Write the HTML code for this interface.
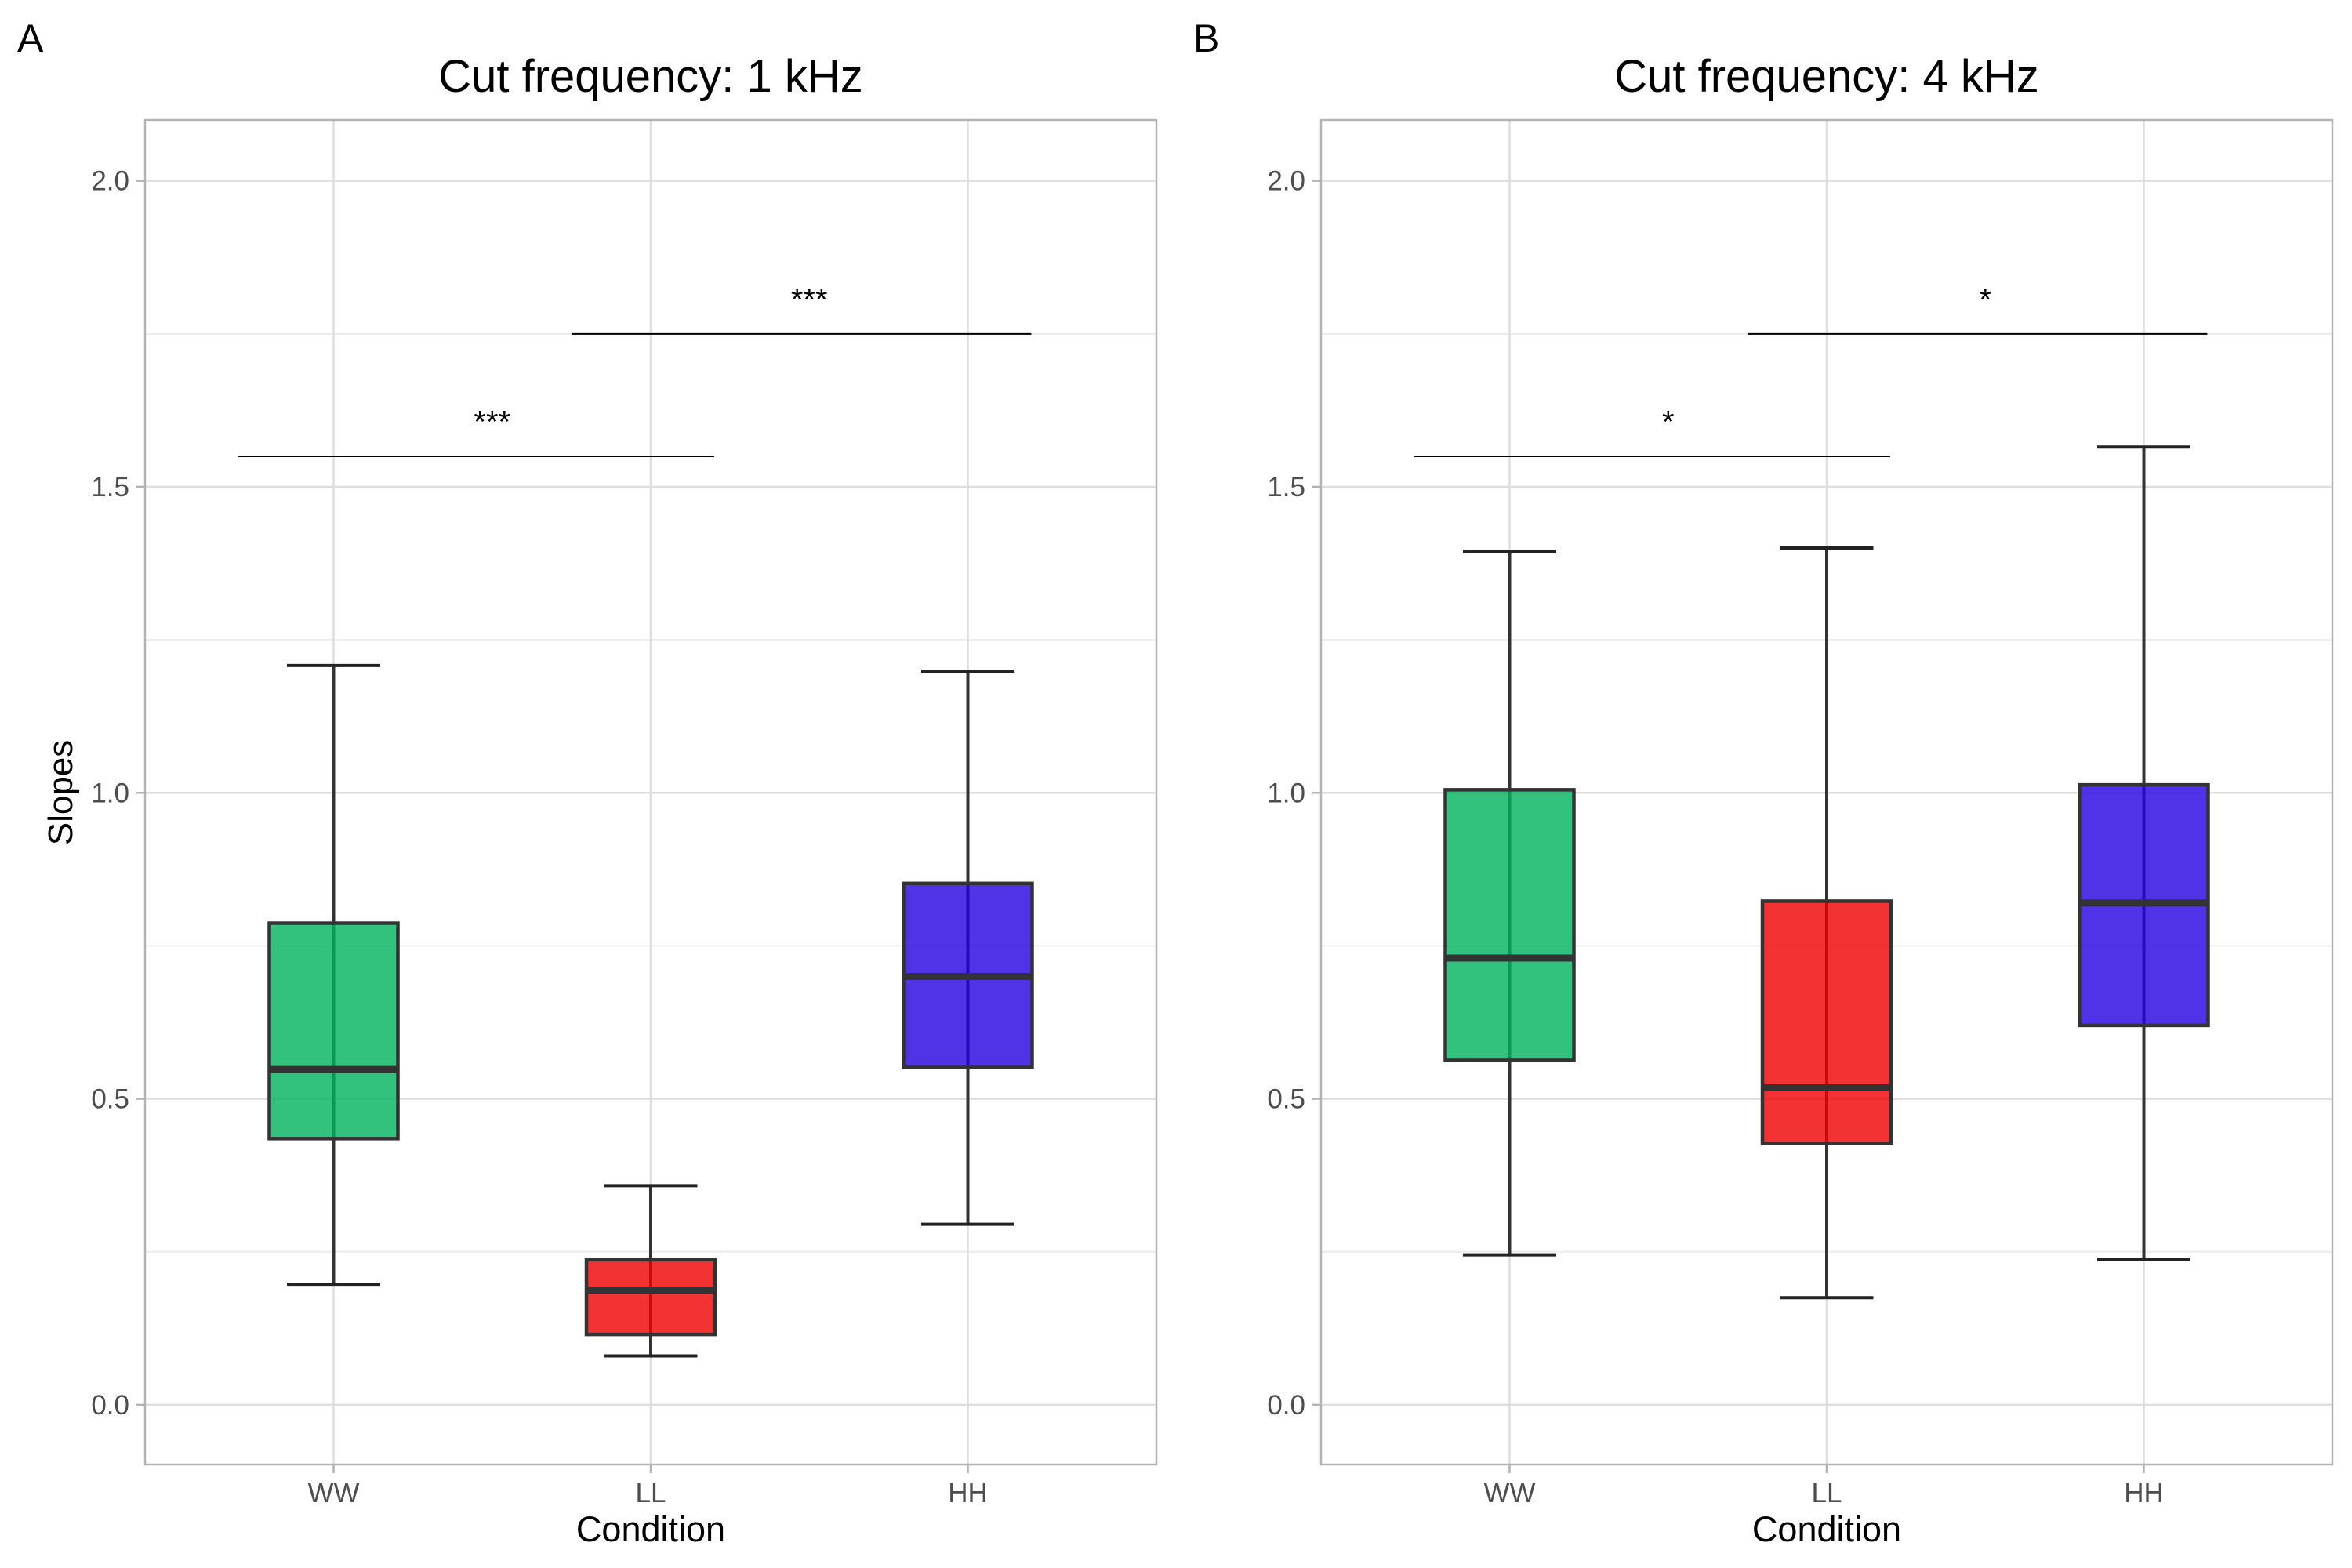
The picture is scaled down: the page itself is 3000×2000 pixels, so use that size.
<!DOCTYPE html>
<html><head><meta charset="utf-8">
<style>
html,body{margin:0;padding:0;background:#fff;}
svg{display:block;font-family:"Liberation Sans",sans-serif;}
</style></head>
<body>
<svg id="chart" width="3000" height="2000" viewBox="0 0 3000 2000"></svg>
<script>
const categories = ["WW","LL","HH"];
const colors = ["#00b35c","#f00000","#2400e0"];
const panelTitles = ["Cut frequency: 1 kHz","Cut frequency: 4 kHz"];
const panelLetters = ["A","B"];
// per panel: [min, q1, median, q3, max] for WW, LL, HH
const statsA = [[0.197,0.435,0.548,0.787,1.208],[0.080,0.115,0.187,0.237,0.358],[0.295,0.552,0.700,0.852,1.199]];
const statsB = [[0.245,0.563,0.730,1.005,1.395],[0.175,0.427,0.518,0.823,1.400],[0.238,0.620,0.820,1.013,1.565]];
const stats = [statsA, statsB];
const yTicks = [0.0,0.5,1.0,1.5,2.0];
const yTickLabels = ["0.0","0.5","1.0","1.5","2.0"];
const yMinor = [0.25,0.75,1.25,1.75];
// brackets: [fromCat, toCat, y, label]
const bracketsA = [[0,1,1.55,"***"],[1,2,1.75,"***"]];
const bracketsB = [[0,1,1.55,"*"],[1,2,1.75,"*"]];
const brackets = [bracketsA, bracketsB];

const svg = document.getElementById('chart');
const NS = "http://www.w3.org/2000/svg";
function mk(tag, attrs, parent){
  const e = document.createElementNS(NS, tag);
  for (const k in attrs) e.setAttribute(k, attrs[k]);
  (parent||svg).appendChild(e);
  return e;
}
const panelLeft = [185, 1685];
const pw = 1290, plotTop = 153, plotBottom = 1868;
const yDomain = [-0.0975, 2.0995];
function yScale(v){ return plotBottom - (v - yDomain[0]) / (yDomain[1]-yDomain[0]) * (plotBottom-plotTop); }

for (let p=0; p<2; p++){
  const L = panelLeft[p];
  const xScale = (i) => L + pw/2 + (i-1)*404.5;
  const g = mk('g', {});
  
  

  yMinor.forEach(v=>{
    const l = mk('line',{x1:L,x2:L+pw,y1:yScale(v),y2:yScale(v),stroke:'#ececec','stroke-width':2},g);
    
    
  });
  yTicks.forEach((v,i)=>{
    const l = mk('line',{x1:L,x2:L+pw,y1:yScale(v),y2:yScale(v),stroke:'#dedede','stroke-width':2.5},g);
    
    
    const tk = mk('line',{x1:L-11,x2:L,y1:yScale(v),y2:yScale(v),stroke:'#b3b3b3','stroke-width':2.5},g);
    
    
    const t = mk('text',{x:L-20,y:yScale(v)+12,'text-anchor':'end','font-size':35,fill:'#4d4d4d'},g);
    t.textContent = yTickLabels[i];
    
    
  });
  categories.forEach((c,i)=>{
    const x = xScale(i);
    const l = mk('line',{x1:x,x2:x,y1:plotTop,y2:plotBottom,stroke:'#dedede','stroke-width':2.5},g);
    
    
    const tk = mk('line',{x1:x,x2:x,y1:plotBottom,y2:plotBottom+11,stroke:'#b3b3b3','stroke-width':2.5},g);
    
    
    const t = mk('text',{x:x,y:1916,'text-anchor':'middle','font-size':35,fill:'#4d4d4d'},g);
    t.textContent = c;
    
    
  });
  const bw = 164, cw = 119;
  stats[p].forEach((s,i)=>{
    const x = xScale(i);
    const bg = mk('g',{},g);
    
    
    const wl = mk('line',{x1:x,x2:x,y1:yScale(s[0]),y2:yScale(s[4]),stroke:'#333','stroke-width':4},bg);
    
    
    [s[0],s[4]].forEach(v=>{
      const cap = mk('line',{x1:x-cw/2,x2:x+cw/2,y1:yScale(v),y2:yScale(v),stroke:'#222','stroke-width':4},bg);
      
      
    });
    const r = mk('rect',{x:x-bw/2,y:yScale(s[3]),width:bw,height:yScale(s[1])-yScale(s[3]),fill:colors[i],'fill-opacity':0.8,stroke:'#333','stroke-width':4.5},bg);
    
    
    const m = mk('line',{x1:x-bw/2,x2:x+bw/2,y1:yScale(s[2]),y2:yScale(s[2]),stroke:'#333','stroke-width':9},bg);
    
    
  });
  brackets[p].forEach(b=>{
    const x1 = xScale(b[0]) - (b[0]==1?0.25:0.3)*404.5;
    const x2 = xScale(b[1]) + 0.2*404.5;
    const l = mk('line',{x1:x1,x2:x2,y1:yScale(b[2]),y2:yScale(b[2]),stroke:'#000','stroke-width':2},g);
    
    
    const t = mk('text',{x:(xScale(b[0])+xScale(b[1]))/2,y:yScale(b[2]+0.08)+32,'text-anchor':'middle','font-size':40,fill:'#000'},g);
    t.textContent = b[3];
    
    
  });
  const bd = mk('rect',{x:L,y:plotTop,width:pw,height:plotBottom-plotTop,fill:'none',stroke:'#b3b3b3','stroke-width':2.5},g);
  
  
  const tt = mk('text',{x:L+pw/2,y:117,'text-anchor':'middle','font-size':58,fill:'#000'},g);
  tt.textContent = panelTitles[p];
  
  
  const lt = mk('text',{x:L-163,y:66,'font-size':50,fill:'#000'},g);
  lt.textContent = panelLetters[p];
  
  
  const xt = mk('text',{x:L+pw/2,y:1966,'text-anchor':'middle','font-size':45,fill:'#000'},g);
  xt.textContent = "Condition";
  
  
}
const yt = mk('text',{x:0,y:0,'text-anchor':'middle','font-size':44,fill:'#000',transform:'translate(92,1011) rotate(-90)'});
yt.textContent = "Slopes";


</script>
</body></html>
